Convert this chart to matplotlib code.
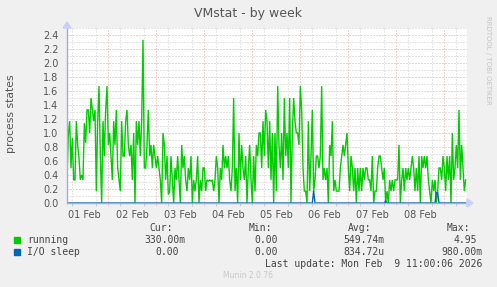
import matplotlib
matplotlib.use("Agg")
import matplotlib.pyplot as plt
import numpy as np
from matplotlib.ticker import FixedLocator, NullFormatter

# ---------------- data ----------------
start_hour = 3.5          # hours after 01 Feb 00:00 at the left edge
end_hour = 203.5          # Mon Feb 9 ~11:00
step_hours = 2.0 / 3.0    # sample spacing (40 min)

running = [
    0.36, 0.98, 1.17, 0.5, 0.93, 0.33, 0.33, 1.17, 0.83, 0.64, 0.33, 0.4, 0.33, 1.14, 0.86, 1.33,
    1.33, 1.0, 1.5, 1.33, 1.17, 1.33, 0.17, 1.17, 1.67, 0.67, 0.0, 1.17, 0.67, 1.33, 1.67, 0.83,
    1.0, 0.67, 0.33, 1.17, 0.83, 1.33, 0.5, 0.33, 0.17, 1.17, 0.67, 0.67, 1.17, 1.33, 0.83, 0.67,
    0.83, 0.33, 1.0, 0.0, 1.17, 0.83, 1.17, 0.67, 1.17, 2.33, 0.5, 0.5, 0.83, 1.33, 0.67, 0.83,
    0.5, 0.83, 0.67, 0.5, 0.67, 0.5, 0.33, 0.0, 1.0, 0.83, 0.33, 0.67, 0.12,
    0.17, 0.67, 0.33, 0.0, 0.5, 0.33, 0.67, 0.33, 0.0, 0.83, 0.5, 0.67, 0.33, 0.17, 0.5, 0.33,
    0.67, 0.0, 0.33, 0.17, 0.33, 0.67, 0.0, 0.33, 0.17, 0.5, 0.5, 0.17, 0.33, 0.31, 0.33, 0.31,
    0.33, 0.17, 0.33, 0.67, 0.5, 0.0, 0.5, 0.33, 0.83, 0.5, 0.67, 0.5, 0.67, 0.33, 0.17, 0.5,
    1.5, 0.17, 0.5, 0.0, 1.0, 0.33, 0.83, 0.5, 0.33, 0.67, 0.0, 0.5, 0.83, 0.33, 0.0, 0.67,
    0.17, 0.83, 0.67, 1.0, 1.0, 0.5, 1.17, 0.67, 1.33, 1.17,
    0.5, 1.17, 0.33, 1.0, 0.0, 1.0, 0.17, 1.67, 0.83, 0.5, 1.0, 0.33, 1.5, 0.67, 1.0, 0.5,
    1.5, 0.0, 1.0, 1.5, 1.17, 1.0, 1.0, 0.83, 1.67, 1.33, 0.5, 0.17, 0.17, 0.0, 1.17, 0.17,
    0.67, 1.33, 0.17, 0.33, 0.67, 0.67, 0.5, 0.67, 1.67, 0.33, 0.5, 0.33, 0.5, 0.0, 0.83, 0.67,
    1.17, 0.17, 0.33, 0.17, 0.17, 0.17, 0.5, 0.67, 0.83, 0.67, 0.83, 1.0, 0.5, 0.17, 0.67, 0.5,
    0.17, 0.5, 0.0, 0.5, 0.17, 0.5, 0.17, 0.5, 0.33, 0.5, 0.5,
    0.33, 0.33, 0.17, 0.67, 0.0, 0.17, 0.17, 0.5, 0.67, 0.67, 0.5, 0.33, 0.5, 0.0, 0.17, 0.0,
    0.33, 0.17, 0.33, 0.17, 0.33, 0.33, 0.33, 0.83, 0.0, 0.33, 0.5, 0.17, 0.5, 0.33, 0.5, 0.33,
    0.5, 0.67, 0.5, 0.17, 0.5, 0.17, 0.67, 0.0, 0.67, 0.5, 0.67, 0.5, 0.67, 0.33, 0.17, 0.0,
    0.33, 0.17, 0.33, 0.0, 0.17, 0.5, 0.5, 0.33, 0.67, 0.5, 0.17, 0.67, 0.33, 0.67, 0.0, 1.0,
    0.33, 0.5, 0.83, 0.5, 1.33, 0.33, 0.83, 0.5, 0.17, 0.33,
]
io_sleep_idx = [185, 239, 277, 278]
io_sleep_val = [0.17, 0.03, 0.15, 0.15]

day_labels = ["01 Feb", "02 Feb", "03 Feb", "04 Feb", "05 Feb", "06 Feb", "07 Feb", "08 Feb"]
y_ticks = [0.0, 0.2, 0.4, 0.6, 0.8, 1.0, 1.2, 1.4, 1.6, 1.8, 2.0, 2.2, 2.4]

legend_names = ["running", "I/O sleep"]
legend_colors = ["#00CC00", "#0066B3"]
legend_cur = ["330.00m", "0.00"]
legend_min = ["0.00", "0.00"]
legend_avg = ["549.74m", "834.72u"]
legend_max = ["4.95", "980.00m"]

# ---------------- figure ----------------
W, H = 497, 287
fig = plt.figure(figsize=(W / 100, H / 100), dpi=100, facecolor="#F0F0F0")

def fx(px):
    return px / W

def fy(py):
    return 1 - py / H

ax = fig.add_axes([fx(67), fy(203), 400 / W, 175 / H])
ax.set_facecolor("white")

t = start_hour + np.arange(len(running)) * step_hours
io = np.zeros(len(running))
io[io_sleep_idx] = io_sleep_val

ax.plot(t, running, color=legend_colors[0], lw=1.0, solid_joinstyle="miter", zorder=3)
ax.plot(t, io, color=legend_colors[1], lw=1.0, zorder=4)

ax.set_xlim(start_hour, end_hour)
ax.set_ylim(0, 2.5)

# grid
red = "#E8A0A0"
gray = "#CCCCCC"
dot = (0, (1, 2))
ax.yaxis.set_major_locator(FixedLocator(y_ticks))
ax.yaxis.set_minor_locator(FixedLocator(np.arange(0.1, 2.55, 0.2)))
ax.set_yticklabels([f"{v:.1f}" for v in y_ticks])
ax.grid(axis="y", which="major", color=red, lw=0.72, linestyle=dot)
ax.grid(axis="y", which="minor", color=gray, lw=0.72, linestyle=dot)

noons = [12 + 24 * i for i in range(len(day_labels))]
midnights = [24 * (i + 1) for i in range(len(day_labels))]
six_h = [h for h in range(6, 204, 6) if h % 24 != 0 and h > start_hour]
ax.xaxis.set_major_locator(FixedLocator(noons))
ax.set_xticklabels(day_labels)
ax.xaxis.set_minor_locator(FixedLocator(six_h))
ax.xaxis.set_minor_formatter(NullFormatter())
ax.grid(axis="x", which="minor", color=gray, lw=0.72, linestyle=dot)
for m in midnights:
    ax.axvline(m, ymin=-0.012, ymax=1, color=red, lw=0.72, linestyle=dot, clip_on=False, zorder=1)

ax.tick_params(axis="x", which="major", length=0, pad=5, labelsize=7, labelcolor="#555555")
ax.tick_params(axis="x", which="minor", length=2, width=0.7, color="#C8C8C8")
ax.tick_params(axis="y", which="both", length=0, pad=6, labelsize=7, labelcolor="#555555")

for s in ["top", "right"]:
    ax.spines[s].set_visible(False)
for s in ["left", "bottom"]:
    ax.spines[s].set_color("#A4ACD4")
    ax.spines[s].set_linewidth(1.0)
    ax.spines[s].set_zorder(5)

# axis arrows
arrow_c = "#C8D0F4"
fig.patches.append(plt.Polygon([[fx(467), fy(199)], [fx(467), fy(207)], [fx(473), fy(203)]],
                               closed=True, transform=fig.transFigure, color=arrow_c))
fig.patches.append(plt.Polygon([[fx(63), fy(28)], [fx(71), fy(28)], [fx(67), fy(22)]],
                               closed=True, transform=fig.transFigure, color=arrow_c))

# titles
fig.text(fx(248), fy(13), "VMstat - by week", ha="center", va="center", fontsize=9, color="#555555")
fig.text(fx(11), fy(114), "process states", rotation=90, ha="center", va="center",
         fontsize=7.8, color="#555555")
fig.text(fx(488), fy(16), "RRDTOOL / TOBI OETIKER", rotation=-90, ha="center", va="top",
         fontsize=5, color="#C4C4C4")

# legend
mono = "DejaVu Sans Mono"
tc = "#444444"
fs = 7
for lbl, xr in zip(["Cur:", "Min:", "Avg:", "Max:"], [173, 272, 371, 470]):
    fig.text(fx(xr), fy(228), lbl, ha="right", va="center", family=mono, fontsize=fs, color=tc)
rows_y = [240, 252]
for i in range(2):
    yy = rows_y[i]
    fig.patches.append(plt.Rectangle((fx(14), fy(yy + 3)), 6 / W, 6 / H,
                                     transform=fig.transFigure, color=legend_colors[i]))
    fig.text(fx(27), fy(yy), legend_names[i], ha="left", va="center", family=mono, fontsize=fs, color=tc)
    cur = legend_cur[i]
    fig.text(fx(185 if cur.endswith(("m", "u")) else 179), fy(yy), cur, ha="right", va="center",
             family=mono, fontsize=fs, color=tc)
    fig.text(fx(278), fy(yy), legend_min[i], ha="right", va="center", family=mono, fontsize=fs, color=tc)
    fig.text(fx(384), fy(yy), legend_avg[i], ha="right", va="center", family=mono, fontsize=fs, color=tc)
    mx = legend_max[i]
    fig.text(fx(483 if mx.endswith(("m", "u")) else 477), fy(yy), mx, ha="right", va="center",
             family=mono, fontsize=fs, color=tc)

fig.text(fx(482), fy(264), "Last update: Mon Feb  9 11:00:06 2026", ha="right", va="center",
         family=mono, fontsize=fs, color=tc)
fig.text(fx(248), fy(276), "Munin 2.0.76", ha="center", va="center", fontsize=5.5, color="#C8C8C8")

fig.savefig("out.png", dpi=100, facecolor=fig.get_facecolor())
